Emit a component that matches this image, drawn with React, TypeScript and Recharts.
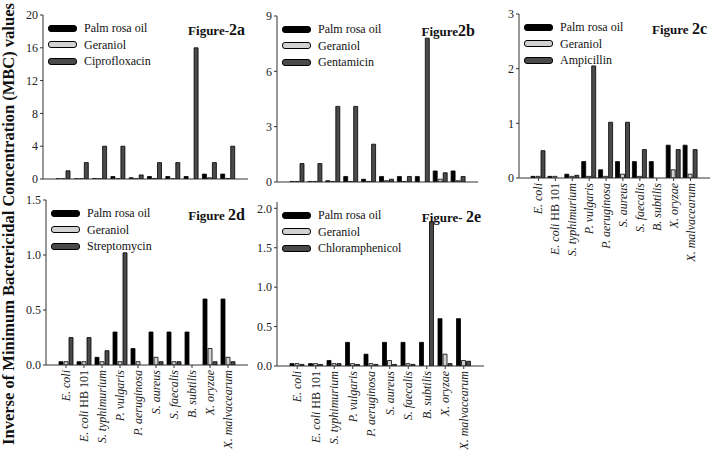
import React from 'react'
import { BarChart, Bar, XAxis, YAxis, Legend } from 'recharts'

const categories = [
  'E. coli',
  'E. coli HB 101',
  'S. typhimurium',
  'P. vulgaris',
  'P. aeruginosa',
  'S. aureus',
  'S. faecalis',
  'B. subtilis',
  'X. oryzae',
  'X. malvacearum',
]

const palmRosaOil = [0.03, 0.03, 0.07, 0.3, 0.15, 0.3, 0.3, 0.3, 0.6, 0.6]
const geraniol = [0.03, 0.03, 0.03, 0.03, 0.03, 0.07, 0.03, 0, 0.15, 0.07]
const ciprofloxacin = [1, 2, 4, 4, 0.5, 2, 2, 16, 2, 4]
const gentamicin = [1, 1, 4.1, 4.1, 2.05, 0.15, 0.3, 7.8, 0.5, 0.3]
const ampicillin = [0.5, 0, 0.05, 2.05, 1.02, 1.02, 0.52, 0, 0.52, 0.52]
const streptomycin = [0.25, 0.25, 0.13, 1.02, 0, 0.03, 0.03, 0, 0.03, 0.03]
const chloramphenicol = [0.02, 0.02, 0.03, 0.02, 0.02, 0.02, 0.02, 1.83, 0.03, 0.06]

const seriesOrder = ['Palm rosa oil', 'Geraniol']

const FONT = '"Liberation Serif", "Times New Roman", serif'
const W = 715
const H = 454

type Panel = {
  fig: string
  tag: string
  drug: string
  values: number[]
  ticks: number[]
  max: number
  decimals: number
  box: { l: number; t: number; r: number; b: number }
  labels: boolean
}

const panels: Panel[] = [
  { fig: 'Figure-', tag: '2a', drug: 'Ciprofloxacin', values: ciprofloxacin, ticks: [0, 4, 8, 12, 16, 20], max: 20, decimals: 0, box: { l: 43, t: 15, r: 248, b: 179 }, labels: false },
  { fig: 'Figure', tag: '2b', drug: 'Gentamicin', values: gentamicin, ticks: [0, 3, 6, 9], max: 9, decimals: 0, box: { l: 277, t: 16, r: 478, b: 182 }, labels: false },
  { fig: 'Figure ', tag: '2c', drug: 'Ampicillin', values: ampicillin, ticks: [0, 1, 2, 3], max: 3, decimals: 0, box: { l: 519, t: 14, r: 710, b: 178 }, labels: true },
  { fig: 'Figure ', tag: '2d', drug: 'Streptomycin', values: streptomycin, ticks: [0, 0.5, 1, 1.5], max: 1.5, decimals: 1, box: { l: 46, t: 200, r: 248, b: 365 }, labels: true },
  { fig: 'Figure- ', tag: '2e', drug: 'Chloramphenicol', values: chloramphenicol, ticks: [0, 0.5, 1, 1.5, 2], max: 2.08, decimals: 1, box: { l: 277, t: 202, r: 484, b: 366 }, labels: true },
]

function SpeciesTick({ x, y, payload }: any) {
  const label: string = payload.value
  const parts = label.split(' ')
  const italic = parts.slice(0, 2).join(' ')
  const rest = parts.slice(2).join(' ')
  return (
    <g transform={`translate(${x},${y})`}>
      <text transform="rotate(-90)" textAnchor="end" x={-1} dy="0.33em" fontFamily={FONT} fontSize={12} fill="#222">
        <tspan fontStyle="italic">{italic}</tspan>
        {rest && <tspan>{' ' + rest}</tspan>}
      </text>
    </g>
  )
}

function LegendBox({ payload }: any) {
  return (
    <div style={{ fontFamily: FONT, fontSize: 12, color: '#111', lineHeight: '16px' }}>
      {(payload || []).map((e: any) => (
        <div key={e.value} style={{ display: 'flex', alignItems: 'center', height: 16.5 }}>
          <span
            style={{
              display: 'inline-block',
              width: 27,
              height: 5,
              background: e.color,
              border: '1px solid #000',
              borderRadius: 3,
              marginRight: 7,
            }}
          />
          <span>{e.value}</span>
        </div>
      ))}
    </div>
  )
}

function PanelChart({ p }: { p: Panel }) {
  const data = categories.map((name, i) => ({
    name,
    palm: palmRosaOil[i],
    geraniol: geraniol[i],
    drug: p.values[i],
  }))
  const yw = 30
  const xh = p.labels ? 90 : 6
  const { l, t, r, b } = p.box
  const order = [...seriesOrder, p.drug]
  return (
    <div style={{ position: 'absolute', left: 0, top: 0, width: W, height: H }}>
      <BarChart
        width={W}
        height={H}
        data={data}
        margin={{ top: t, left: l - yw, right: W - r, bottom: H - b - xh }}
        barGap={1}
      >
        <XAxis
          dataKey="name"
          interval={0}
          height={xh}
          padding={{ left: 11, right: 11 }}
          axisLine={{ stroke: '#333' }}
          tickLine={{ stroke: '#333' }}
          tickSize={3}
          tickMargin={1}
          tick={p.labels ? <SpeciesTick /> : false}
        />
        <XAxis xAxisId="top" orientation="top" dataKey="name" height={0} tick={false} tickLine={false} axisLine={{ stroke: '#333' }} />
        <YAxis
          domain={[0, p.max]}
          ticks={p.ticks}
          width={yw}
          allowDataOverflow
          axisLine={{ stroke: '#333' }}
          tickLine={{ stroke: '#333' }}
          tickSize={3}
          tickMargin={2}
          tick={{ fill: '#222', fontSize: 12, fontFamily: FONT }}
          tickFormatter={(v: number) => v.toFixed(p.decimals)}
        />
        <YAxis yAxisId="r" orientation="right" domain={[0, p.max]} width={0} tick={false} tickLine={false} axisLine={{ stroke: '#333' }} />
        <Legend
          layout="vertical"
          align="center"
          verticalAlign="middle"
          itemSorter={(item: any) => order.indexOf(item.value)}
          wrapperStyle={{ left: l + 5, top: t + 5, width: 'auto', height: 'auto' }}
          content={<LegendBox />}
        />
        <Bar dataKey="palm" name="Palm rosa oil" fill="#000" stroke="#000" strokeWidth={0.8} barSize={4} isAnimationActive={false} />
        <Bar dataKey="geraniol" name="Geraniol" fill="#d2d2d2" stroke="#000" strokeWidth={0.8} barSize={4} isAnimationActive={false} />
        <Bar dataKey="drug" name={p.drug} fill="#4a4a4a" stroke="#000" strokeWidth={0.8} barSize={4} isAnimationActive={false} />
      </BarChart>
      <div
        style={{
          position: 'absolute',
          right: W - r + 3,
          top: t + 6,
          fontFamily: FONT,
          fontWeight: 'bold',
          fontSize: 13,
          color: '#111',
          whiteSpace: 'pre',
        }}
      >
        {p.fig}
        <span style={{ fontSize: 16 }}>{p.tag}</span>
      </div>
    </div>
  )
}

export default function App() {
  return (
    <div style={{ position: 'absolute', left: 0, top: 0, width: W, height: H, background: '#fff', fontFamily: FONT }}>
      {panels.map((p) => (
        <PanelChart key={p.tag} p={p} />
      ))}
      <svg width={30} height={H} style={{ position: 'absolute', left: 0, top: 0 }}>
        <text
          transform={`translate(14,${224}) rotate(-90)`}
          textAnchor="middle"
          fontFamily={FONT}
          fontWeight="bold"
          fontSize={16.5}
          fill="#111"
        >
          Inverse of Minimum Bactericidal Concentration (MBC) values
        </text>
      </svg>
    </div>
  )
}
